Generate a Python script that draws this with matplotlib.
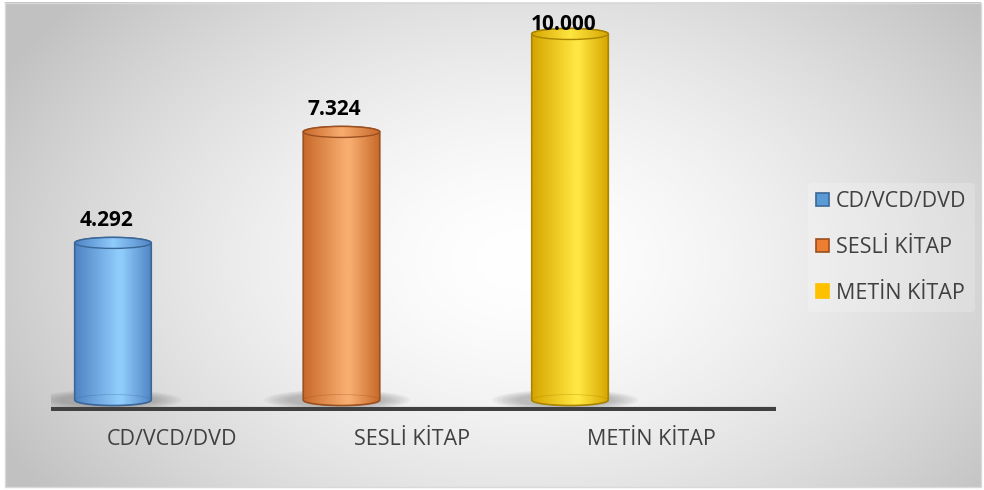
import numpy as np
import matplotlib.pyplot as plt
from matplotlib.colors import LinearSegmentedColormap
from matplotlib.patches import Ellipse, Polygon, Patch

categories = ['CD/VCD/DVD', 'SESLİ KİTAP', 'METİN KİTAP']
values = [4292, 7324, 10000]
edge_colors = ['#4f84c4', '#c8692a', '#d6a500']
light_colors = ['#8fcbfb', '#f8ad70', '#ffe640']
line_colors = ['#3b6797', '#9c5020', '#a88400']
legend_colors = ['#5b9bd5', '#ed7d31', '#ffc000']

plt.rcParams['font.family'] = ['Open Sans', 'DejaVu Sans']

fig = plt.figure(figsize=(9.84, 4.9), dpi=100)

# background with radial gradient
bg = fig.add_axes([0, 0, 1, 1])
bg.set_xlim(0, 984)
bg.set_ylim(490, 0)
bg.axis('off')
yy, xx = np.mgrid[0:490, 0:984]
d = np.sqrt(((xx - 520) / 620.0) ** 2 + ((yy - 260) / 420.0) ** 2)
shade = np.clip(1.0 - 0.26 * d ** 1.6, 0.76, 1.0)
bg.imshow(np.dstack([shade, shade, shade]), extent=(5, 981, 487, 3), aspect='auto')
bg.plot([5, 981, 981, 5, 5], [3, 3, 487, 487, 3], color='#d9d9d9', lw=1)

ax = fig.add_axes([0.0521, 0.1612, 0.7362, 0.8292])
ax.patch.set_alpha(0)
ax.set_xlim(-0.27, 2.9)
ax.set_ylim(-300, 10800)
for s in ax.spines.values():
    s.set_visible(False)
ax.set_yticks([])

w = 0.335
eh = 300  # ellipse height in data units

for i, (cat, v) in enumerate(zip(categories, values)):
    # soft shadow at base
    for k in range(6):
        sh = Ellipse((i - 0.02, 0), w * (1.9 - 0.12 * k), eh * (1.9 - 0.15 * k),
                     facecolor='#6a6a6a', edgecolor='none', alpha=0.08, zorder=1)
        ax.add_patch(sh)

    t = np.linspace(np.pi, 2 * np.pi, 40)
    bottom_arc = np.column_stack([i + w / 2 * np.cos(t), eh / 2 * np.sin(t)])
    t2 = np.linspace(0, np.pi, 40)
    top_arc = np.column_stack([i + w / 2 * np.cos(t2), v + eh / 2 * np.sin(t2)])
    body = Polygon(np.vstack([bottom_arc, top_arc]), closed=True,
                   facecolor='none', edgecolor=line_colors[i], lw=1.2, zorder=3)
    ax.add_patch(body)

    cmap = LinearSegmentedColormap.from_list(
        'c%d' % i, [edge_colors[i], light_colors[i], light_colors[i], edge_colors[i]])
    grad = np.linspace(0, 1, 200)[None, :]
    grad = np.interp(grad, [0, 0.55, 0.62, 1], [0, 0.33, 0.67, 1])
    im = ax.imshow(grad, cmap=cmap, extent=(i - w / 2, i + w / 2, -eh, v + eh),
                   aspect='auto', zorder=2)
    im.set_clip_path(body)

    # translucent bottom face
    ax.add_patch(Ellipse((i, 0), w, eh, facecolor='none', edgecolor=line_colors[i],
                         lw=0.6, alpha=0.35, zorder=3))

    # top face
    top = Ellipse((i, v), w, eh, facecolor='none', edgecolor=line_colors[i], lw=1.0, zorder=4)
    ax.add_patch(top)
    cmap_top = LinearSegmentedColormap.from_list(
        't%d' % i, [edge_colors[i], light_colors[i], edge_colors[i]])
    im2 = ax.imshow(np.linspace(0, 1, 200)[None, :], cmap=cmap_top,
                    extent=(i - w / 2, i + w / 2, v - eh, v + eh), aspect='auto', zorder=3.5)
    im2.set_clip_path(top)

    label = '{:,}'.format(v).replace(',', '.')
    ax.text(i - 0.03, min(v + 320, 9970), label, ha='center', va='bottom',
            fontsize=15, fontweight='bold', color='black', zorder=5)

ax.axhline(-240, color='#404040', lw=3, zorder=2.5)

ax.set_xticks([0.26 + 1.047 * i for i in range(len(categories))])
ax.set_xticklabels(categories, fontsize=15.5, color='#404040')
ax.tick_params(axis='x', length=0, pad=13)

handles = [Patch(facecolor=c, edgecolor=l if i < 2 else c, lw=1.2)
           for i, (c, l) in enumerate(zip(legend_colors, line_colors))]
leg = fig.legend(handles, categories, loc='center left', bbox_to_anchor=(0.821, 0.495),
                 frameon=True, fontsize=15.5, labelspacing=1.15, handlelength=0.6,
                 handleheight=0.6, handletextpad=0.3, borderaxespad=0)
leg.get_frame().set_facecolor('white')
leg.get_frame().set_alpha(0.2)
leg.get_frame().set_edgecolor('none')
for txt in leg.get_texts():
    txt.set_color('#404040')

fig.savefig('out.png', dpi=100)
